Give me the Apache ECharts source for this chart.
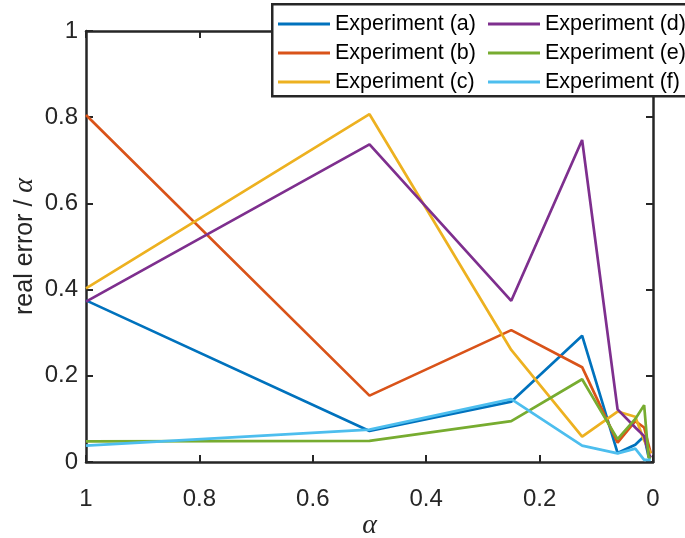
<!DOCTYPE html>
<html>
<head>
<meta charset="utf-8">
<script src="https://cdn.jsdelivr.net/npm/echarts@6/dist/echarts.min.js"></script>
<style>html,body{margin:0;padding:0;background:#fff;}#c{width:685px;height:538px;}</style>
</head>
<body>
<div id="c"></div>
<script>
var alphaValues = [1, 0.5, 0.25, 0.125, 0.0625, 0.03125, 0.015625, 0.0078125, 0.00390625];
var seriesNames = ['Experiment (a)', 'Experiment (b)', 'Experiment (c)', 'Experiment (d)', 'Experiment (e)', 'Experiment (f)'];
var expA = [0.375, 0.072, 0.140, 0.293, 0.021, 0.040, 0.060, 0.012, 0.010];
var expB = [0.805, 0.154, 0.306, 0.220, 0.045, 0.095, 0.080, 0.040, 0.020];
var expC = [0.403, 0.807, 0.260, 0.059, 0.117, 0.105, 0.050, 0.030, 0.020];
var expD = [0.372, 0.737, 0.374, 0.747, 0.122, 0.080, 0.060, 0.020, 0.010];
var expE = [0.048, 0.049, 0.095, 0.192, 0.053, 0.100, 0.132, 0.010, 0.010];
var expF = [0.038, 0.075, 0.146, 0.038, 0.020, 0.031, 0.005, 0.005, 0.005];
var xTicks = [0, 0.2, 0.4, 0.6, 0.8, 1];
var yTicks = [0, 0.2, 0.4, 0.6, 0.8, 1];

var colors = ['#0072BD', '#D95319', '#EDB120', '#7E2F8E', '#77AC30', '#4DBEEE'];
var allData = [expA, expB, expC, expD, expE, expF];
var axisColor = '#262626';
var sans = '"Liberation Sans", Arial, Helvetica, sans-serif';
var serif = '"Liberation Serif", "DejaVu Serif", serif';

function pairs(ys) { return alphaValues.map(function (x, i) { return [x, ys[i]]; }); }

var series = allData.map(function (d, i) {
  return {
    name: seriesNames[i], type: 'line', data: pairs(d), showSymbol: false, symbol: 'none',
    lineStyle: { color: colors[i], width: 2.7 }, itemStyle: { color: colors[i] },
    animation: false, z: 2 + i * 0.01
  };
});

function fmt(list) {
  return function (v) { var r = Math.round(v * 10) / 10; return list.indexOf(r) >= 0 ? String(r) : ''; };
}

function xAx(pos, show) {
  return {
    type: 'value', position: pos, inverse: true, min: 0, max: 1, interval: 0.2,
    axisLine: { show: true, onZero: false, lineStyle: { color: axisColor, width: 2.5 } },
    axisTick: { show: true, inside: true, length: 7, lineStyle: { color: axisColor, width: 2 } },
    axisLabel: { show: show, color: axisColor, fontSize: 24, fontFamily: sans, margin: 25, formatter: fmt(xTicks) },
    splitLine: { show: false }
  };
}
function yAx(pos, show) {
  return {
    type: 'value', position: pos, min: 0, max: 1, interval: 0.2,
    axisLine: { show: true, onZero: false, lineStyle: { color: axisColor, width: 2.5 } },
    axisTick: { show: true, inside: true, length: 7, lineStyle: { color: axisColor, width: 2 } },
    axisLabel: { show: show, color: axisColor, fontSize: 24, fontFamily: sans, margin: 8, formatter: fmt(yTicks) },
    splitLine: { show: false }
  };
}

var xBottom = xAx('bottom', true);
xBottom.name = 'α';
xBottom.nameLocation = 'middle';
xBottom.nameGap = 50;
xBottom.nameMoveOverlap = false;
xBottom.nameTextStyle = { fontFamily: serif, fontStyle: 'italic', fontSize: 28, color: axisColor };
var xTop = xAx('top', false);

var yLeft = yAx('left', true);
yLeft.name = '{a|real error / }{b|α}';
yLeft.nameLocation = 'middle';
yLeft.nameGap = 47;
yLeft.nameRotate = 90;
yLeft.nameMoveOverlap = false;
yLeft.nameTextStyle = {
  rich: {
    a: { fontFamily: sans, fontSize: 25, color: axisColor },
    b: { fontFamily: serif, fontStyle: 'italic', fontSize: 28, color: axisColor }
  }
};
var yRight = yAx('right', false);

var legendBase = {
  orient: 'vertical', top: 13, padding: 0, itemWidth: 52, itemHeight: 3, itemGap: 7, icon: 'rect',
  textStyle: { fontSize: 21.5, fontFamily: sans, color: '#000', lineHeight: 21 },
  selectedMode: false, z: 10
};
var legend1 = Object.assign({}, legendBase, { left: 278, data: seriesNames.slice(0, 3) });
var legend2 = Object.assign({}, legendBase, { left: 488, data: seriesNames.slice(3, 6) });

var chart = echarts.init(document.getElementById('c'), null, { renderer: 'canvas' });
chart.setOption({
  animation: false,
  backgroundColor: '#fff',
  grid: { left: 86, right: 32, top: 31, bottom: 76, containLabel: false, outerBoundsMode: 'none' },
  xAxis: [xBottom, xTop],
  yAxis: [yLeft, yRight],
  legend: [legend1, legend2],
  graphic: [{
    type: 'rect', z: 8, left: 271, top: 3,
    shape: { x: 0, y: 0, width: 440, height: 92 },
    style: { fill: '#fff', stroke: axisColor, lineWidth: 2.5 }
  }],
  series: series
});
</script>
</body>
</html>
